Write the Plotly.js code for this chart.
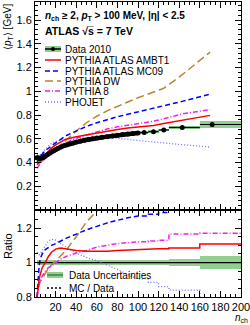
<!DOCTYPE html>
<html><head><meta charset="utf-8">
<script src="https://cdn.plot.ly/plotly-3.0.1.min.js"></script>
<style>html,body{margin:0;padding:0;background:#fff;}#chart{width:250px;height:325px;}</style>
</head><body><div id="chart"></div>
<script>
// ---------- data ----------
const dataN  = [2,3,4,5,6,7,8,9,10,12,14,16,18,20,22,25,28,31,34,37,40,44,48,52,56,60,65,70,75,80,85,90,95,100];
const dataPt = [0.44,0.437,0.435,0.436,0.438,0.441,0.445,0.449,0.455,0.466,0.477,0.488,0.499,0.509,0.518,0.53,0.541,0.55,0.558,0.565,0.572,0.58,0.587,0.594,0.6,0.606,0.612,0.618,0.624,0.63,0.635,0.64,0.644,0.648];
const binN   = [106,115,125,143,172];
const binPt  = [0.652,0.66,0.674,0.695,0.72];
const binLo  = [100,110,120,130,160];
const binHi  = [110,120,130,160,200];
const binSys = [0.01,0.011,0.012,0.014,0.027];

const mcN     = [2,5,10,15,20,30,40,50,60,70,80,90,100,106,115,125,143,170];
const ambt1   = [0.38,0.41,0.465,0.515,0.549,0.597,0.617,0.633,0.648,0.663,0.678,0.69,0.698,0.704,0.712,0.728,0.755,0.797];
const mc09    = [0.40,0.45,0.50,0.535,0.565,0.625,0.668,0.705,0.735,0.763,0.785,0.806,0.826,0.84,0.857,0.878,0.915,0.975];
const dw      = [0.39,0.40,0.435,0.475,0.51,0.585,0.665,0.735,0.79,0.835,0.875,0.91,0.945,0.965,0.99,1.025,1.14,1.33];
const pythia8 = [0.35,0.39,0.435,0.475,0.51,0.566,0.604,0.632,0.66,0.682,0.701,0.714,0.726,0.735,0.748,0.768,0.81,0.845];
const phojet  = [0.466,0.465,0.51,0.555,0.578,0.598,0.605,0.61,0.613,0.612,0.607,0.596,0.586,0.58,0.575,0.565,0.55,0.53];

const ratioN   = [2,3,4,5,7,10,13,16,20,25,30,40,50,60,70,80,90,100,110,110,120,120,130,130,160,160,200];
const rAmbt1   = [0.80,0.86,0.90,0.93,0.97,1.0,1.035,1.06,1.078,1.085,1.08,1.07,1.065,1.064,1.066,1.07,1.073,1.076,1.076,1.078,1.078,1.08,1.08,1.085,1.085,1.108,1.108];
const rMc09    = [0.80,0.92,0.98,1.02,1.05,1.075,1.09,1.10,1.11,1.125,1.14,1.165,1.19,1.21,1.23,1.245,1.26,1.27,1.27,1.28,1.28,1.29,1.29,1.31,1.31,1.35,1.35];
const rDw      = [0.86,0.87,0.88,0.89,0.91,0.94,0.965,0.985,1.01,1.04,1.07,1.15,1.235,1.30,1.35,1.40,1.43,1.46,1.46,1.5,1.5,1.53,1.53,1.6,1.6,1.83,1.83];
const rPythia8 = [0.80,0.84,0.87,0.89,0.92,0.95,0.97,0.98,1.0,1.02,1.035,1.055,1.07,1.09,1.10,1.11,1.115,1.12,1.12,1.125,1.125,1.13,1.13,1.165,1.165,1.17,1.17];
const rPhojet  = [1.06,1.05,1.045,1.05,1.07,1.10,1.125,1.135,1.13,1.11,1.09,1.055,1.03,1.01,0.985,0.96,0.93,0.905,0.905,0.885,0.885,0.86,0.86,0.84,0.84,0.78,0.78];

const bandLo  = [1.5,100,110,120,130,160];
const bandHi  = [100,110,120,130,160,200];
const bandRel = [0.016,0.016,0.016,0.017,0.02,0.037];
const unityN  = [1.5,200];
const unityR  = [1,1];

const xTicks      = [20,40,60,80,100,120,140,160,180,200];
const yTopTicks   = [0.2,0.4,0.6,0.8,1,1.2,1.4,1.6];
const yRatioTicks = [0.8,1,1.2];

const legendTop = ['Data 2010','PYTHIA ATLAS AMBT1','PYTHIA ATLAS MC09','PYTHIA DW','PYTHIA 8','PHOJET'];
const legendBot = ['Data Uncertainties','MC / Data'];

// ---------- styles ----------
const GREEN = '#8fcf8f';
const C = {ambt1:'#ff0000', mc09:'#0000ff', dw:'#b8862e', py8:'#ee22ee', pho:'#7070ff'};
const D = {ambt1:'solid', mc09:'5px,3px', dw:'8px,4px', py8:'5px,2px,1px,2px', pho:'1px,2px'};
const FONT = 'Liberation Sans, Arial, Helvetica, sans-serif';

function mc(x, y, col, dash, xa, ya, w) {
  return {x:x, y:y, type:'scatter', mode:'lines', xaxis:xa, yaxis:ya,
          line:{color:col, dash:dash, width:w||1.5}, showlegend:false, hoverinfo:'skip'};
}

const traces = [];
// top panel systematic band
traces.push({type:'bar', xaxis:'x2', yaxis:'y2',
  x: binLo.map((l,i)=>(l+binHi[i])/2), width: binLo.map((l,i)=>binHi[i]-l),
  base: binPt.map((v,i)=>v-binSys[i]), y: binSys.map(e=>2*e),
  marker:{color:GREEN, line:{width:0}}, showlegend:false, hoverinfo:'skip'});
traces.push(mc(mcN, phojet, C.pho, D.pho, 'x2','y2',1.3));
traces.push(mc(mcN, dw, C.dw, D.dw, 'x2','y2'));
traces.push(mc(mcN, pythia8, C.py8, D.py8, 'x2','y2'));
traces.push(mc(mcN, mc09, C.mc09, D.mc09, 'x2','y2'));
traces.push(mc(mcN, ambt1, C.ambt1, D.ambt1, 'x2','y2'));
traces.push({x:dataN, y:dataPt, type:'scatter', mode:'lines+markers', xaxis:'x2', yaxis:'y2',
  line:{color:'#000', width:4.5}, marker:{color:'#000', size:5}, showlegend:false, hoverinfo:'skip'});
traces.push({x:binN, y:binPt, type:'scatter', mode:'markers', xaxis:'x2', yaxis:'y2',
  marker:{color:'#000', size:5},
  error_x:{type:'data', symmetric:false, array:binHi.map((h,i)=>h-binN[i]), arrayminus:binLo.map((l,i)=>binN[i]-l), color:'#000', thickness:1.2, width:0},
  showlegend:false, hoverinfo:'skip'});

// ratio panel
traces.push({type:'bar', xaxis:'x', yaxis:'y',
  x: bandLo.map((l,i)=>(l+bandHi[i])/2), width: bandLo.map((l,i)=>bandHi[i]-l),
  base: bandRel.map(e=>1-e), y: bandRel.map(e=>2*e),
  marker:{color:GREEN, line:{width:0}}, showlegend:false, hoverinfo:'skip'});
traces.push(mc(unityN, unityR, '#000', 'solid', 'x','y',1.2));
traces.push(mc(ratioN, rPhojet, C.pho, D.pho, 'x','y',1.3));
traces.push(mc(ratioN, rDw, C.dw, D.dw, 'x','y'));
traces.push(mc(ratioN, rPythia8, C.py8, D.py8, 'x','y'));
traces.push(mc(ratioN, rMc09, C.mc09, D.mc09, 'x','y'));
traces.push(mc(ratioN, rAmbt1, C.ambt1, D.ambt1, 'x','y'));

// ---------- layout helpers (pixel -> paper) ----------
const L=35, R=241, T=2, B=297;
const PX = p => (p-L)/(R-L);
const PY = p => (B-p)/(B-T);

const shapes = [];
const annotations = [];
function legLine(py, col, dash, w) {
  shapes.push({type:'line', xref:'paper', yref:'paper', x0:PX(45), x1:PX(61), y0:PY(py), y1:PY(py), line:{color:col, dash:dash, width:w||1.5}});
}
function legText(px, py, txt) {
  annotations.push({xref:'paper', yref:'paper', x:PX(px), y:PY(py), xanchor:'left', yanchor:'middle', showarrow:false, text:txt, font:{family:FONT, size:10, color:'#000'}});
}
const legY = [49,60,71,81,91,102];
// Data 2010 symbol
shapes.push({type:'rect', xref:'paper', yref:'paper', x0:PX(45), x1:PX(61), y0:PY(52), y1:PY(46), fillcolor:GREEN, line:{width:0}});
legLine(legY[0], '#000', 'solid', 1.5);
shapes.push({type:'circle', xref:'paper', yref:'paper', x0:PX(51), x1:PX(55), y0:PY(51), y1:PY(47), fillcolor:'#000', line:{width:0}});
legLine(legY[1], C.ambt1, D.ambt1);
legLine(legY[2], C.mc09, D.mc09);
legLine(legY[3], C.dw, D.dw);
legLine(legY[4], C.py8, D.py8);
legLine(legY[5], C.pho, D.pho, 1.3);
legendTop.forEach((t,i)=>legText(63, legY[i], t));

// bottom legend
shapes.push({type:'rect', xref:'paper', yref:'paper', x0:PX(47), x1:PX(63), y0:PY(278), y1:PY(272), fillcolor:GREEN, line:{width:0}});
shapes.push({type:'line', xref:'paper', yref:'paper', x0:PX(47), x1:PX(63), y0:PY(275), y1:PY(275), line:{color:'#2a6a2a', width:1.2}});
shapes.push({type:'line', xref:'paper', yref:'paper', x0:PX(47), x1:PX(63), y0:PY(288), y1:PY(288), line:{color:'#000', dash:'2px,2px', width:1.5}});
legText(67, 275, legendBot[0]);
legText(67, 288, legendBot[1]);

// header text
annotations.push({xref:'paper', yref:'paper', x:PX(43), y:PY(16), xanchor:'left', yanchor:'middle', showarrow:false,
  text:'<b><i>n</i><sub>ch</sub> ≥ 2, <i>p</i><sub>T</sub> &gt; 100 MeV, |η| &lt; 2.5</b>', font:{family:FONT, size:10, color:'#000'}});
annotations.push({xref:'paper', yref:'paper', x:PX(43), y:PY(31), xanchor:'left', yanchor:'middle', showarrow:false,
  text:'<b>ATLAS √s̅ = 7 TeV</b>', font:{family:FONT, size:10.5, color:'#000'}});

// axis titles
annotations.push({xref:'paper', yref:'paper', x:PX(8), y:PY(52), xanchor:'center', yanchor:'bottom', textangle:-90, showarrow:false,
  text:'⟨<i>p</i><sub>T</sub>⟩ [GeV]', font:{family:FONT, size:10, color:'#000'}});
annotations.push({xref:'paper', yref:'paper', x:PX(8), y:PY(246), xanchor:'center', yanchor:'middle', textangle:-90, showarrow:false,
  text:'Ratio', font:{family:FONT, size:11, color:'#000'}});
annotations.push({xref:'paper', yref:'paper', x:PX(249), y:PY(325), xanchor:'right', yanchor:'bottom', showarrow:false, borderpad:0,
  text:'<i>n</i><sub>ch</sub>', font:{family:FONT, size:10, color:'#000'}});

const axBase = {showline:true, linecolor:'#000', linewidth:1, mirror:'ticks', ticks:'inside', ticklen:6, tickwidth:1, tickcolor:'#000',
  showgrid:false, zeroline:false, tickfont:{family:FONT, size:11, color:'#000'}, fixedrange:true, ticklabeloverflow:'allow'};

const layout = {
  width:250, height:325, margin:{l:L, r:250-R, t:T, b:325-B},
  paper_bgcolor:'#fff', plot_bgcolor:'#fff', showlegend:false, barmode:'overlay', bargap:0,
  font:{family:FONT, size:11, color:'#000'},
  xaxis: Object.assign({}, axBase, {domain:[0,1], range:[0,200], anchor:'y', tickmode:'array', tickvals:xTicks,
     minor:{tickmode:'linear', tick0:0, dtick:5, ticks:'inside', ticklen:3, tickcolor:'#000'}}),
  xaxis2: Object.assign({}, axBase, {domain:[0,1], range:[0,200], anchor:'y2', matches:'x', showticklabels:false, tickmode:'array', tickvals:xTicks,
     minor:{tickmode:'linear', tick0:0, dtick:5, ticks:'inside', ticklen:3, tickcolor:'#000'}}),
  yaxis: Object.assign({}, axBase, {domain:[0,(B-210)/(B-T)], range:[0.8,1.305], anchor:'x', tickmode:'array', tickvals:yRatioTicks,
     minor:{tickmode:'linear', tick0:0.8, dtick:0.05, ticks:'inside', ticklen:3, tickcolor:'#000'}}),
  yaxis2: Object.assign({}, axBase, {domain:[(B-210)/(B-T),1], range:[0,1.752], anchor:'x2', tickmode:'array', tickvals:yTopTicks,
     minor:{tickmode:'linear', tick0:0, dtick:0.04, ticks:'inside', ticklen:3, tickcolor:'#000'}}),
  shapes: shapes,
  annotations: annotations
};

Plotly.newPlot('chart', traces, layout, {staticPlot:true, displayModeBar:false});
</script>
</body></html>
